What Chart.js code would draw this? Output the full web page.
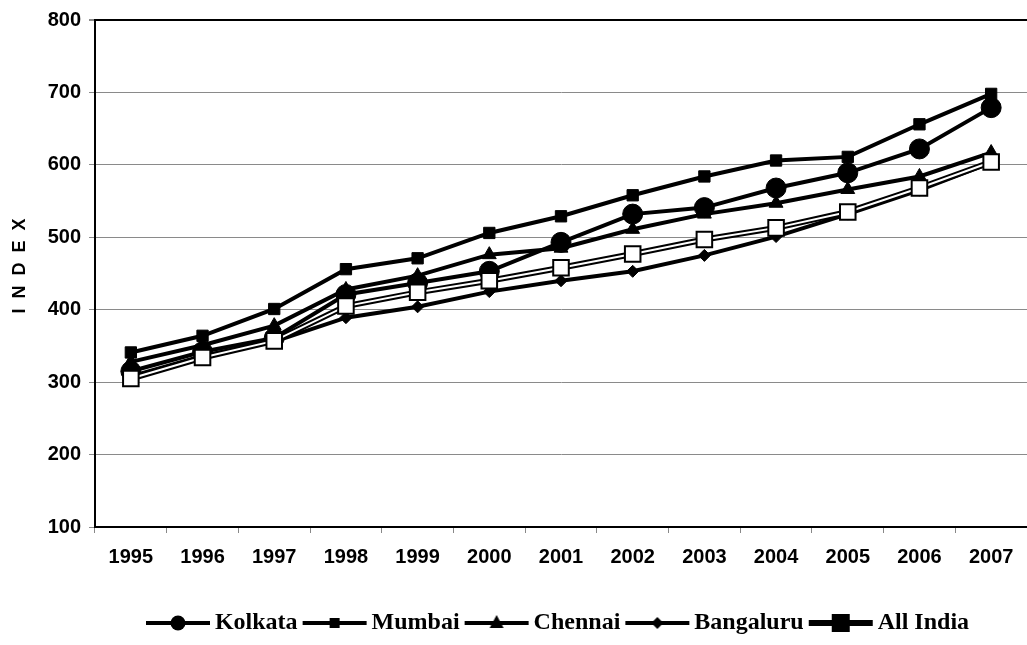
<!DOCTYPE html>
<html>
<head>
<meta charset="utf-8">
<script src="https://cdn.jsdelivr.net/npm/chart.js@4/dist/chart.umd.min.js"></script>
<style>
  html, body { margin: 0; padding: 0; background: #fff; }
  #wrap { width: 1027px; height: 645px; }
</style>
</head>
<body>
<div id="wrap"><canvas id="chart" width="1027" height="645"></canvas></div>
<script>
// years on the x axis
const years = ['1995', '1996', '1997', '1998', '1999', '2000', '2001',
               '2002', '2003', '2004', '2005', '2006', '2007'];

// index values
const kolkata   = [315, 342, 361, 421, 437, 453, 493, 532, 541, 568, 589, 622, 679];
const mumbai    = [341, 364, 401, 456, 471, 506, 529, 558, 584, 606, 611, 656, 698];
const chennai   = [328, 351, 378, 428, 447, 476, 485, 511, 532, 547, 566, 584, 617];
const bangaluru = [308, 336, 356, 389, 404, 425, 440, 453, 475, 501, 532, 565, 603];
const allIndia  = [305, 334, 357, 405, 424, 440, 458, 477, 497, 513, 535, 568, 604];

const yTicks = [100, 200, 300, 400, 500, 600, 700, 800];
const seriesNames = ['Kolkata', 'Mumbai', 'Chennai', 'Bangaluru', 'All India'];

// little picture for each legend entry: a line with the marker on it
function legendIcon(kind) {
    const c = document.createElement('canvas');
    c.width = 70;
    c.height = 24;
    const g = c.getContext('2d');
    const cx = 35, cy = 12;
    g.strokeStyle = '#000';
    g.fillStyle = '#000';
    g.lineWidth = kind === 'allindia' ? 6 : 4;
    g.beginPath();
    g.moveTo(3, cy);
    g.lineTo(67, cy);
    g.stroke();
    g.beginPath();
    if (kind === 'circle') {
        g.arc(cx, cy, 7.5, 0, Math.PI * 2);
    } else if (kind === 'square') {
        g.rect(cx - 5, cy - 5, 10, 10);
    } else if (kind === 'triangle') {
        g.moveTo(cx, cy - 8);
        g.lineTo(cx + 7, cy + 5);
        g.lineTo(cx - 7, cy + 5);
        g.closePath();
    } else if (kind === 'diamond') {
        g.moveTo(cx, cy - 6);
        g.lineTo(cx + 6, cy);
        g.lineTo(cx, cy + 6);
        g.lineTo(cx - 6, cy);
        g.closePath();
    } else {
        g.rect(cx - 9, cy - 9, 18, 18);
    }
    g.fill();
    return c;
}

const icons = [legendIcon('circle'), legendIcon('square'), legendIcon('triangle'),
               legendIcon('diamond'), legendIcon('allindia')];

function series(label, values, style, radius, order) {
    return {
        label: label,
        data: values,
        borderColor: '#000',
        backgroundColor: '#000',
        borderWidth: 4,
        pointStyle: style,
        pointRadius: radius,
        pointBackgroundColor: '#000',
        pointBorderColor: '#000',
        pointBorderWidth: 1,
        tension: 0,
        order: order
    };
}

const allIndiaBase = series('All India', allIndia, 'rect', 0, 1);
allIndiaBase.borderWidth = 6;

const allIndiaCore = series('All India core', allIndia, 'rect', 11, 0);
allIndiaCore.borderColor = '#fff';
allIndiaCore.borderWidth = 2;
allIndiaCore.pointBackgroundColor = '#fff';
allIndiaCore.pointBorderColor = '#000';
allIndiaCore.pointBorderWidth = 2;

const datasets = [
    series('Kolkata', kolkata, 'circle', 10, 2),
    series('Mumbai', mumbai, 'rect', 8, 3),
    series('Chennai', chennai, 'triangle', 8, 4),
    series('Bangaluru', bangaluru, 'rectRot', 6, 5),
    allIndiaBase,
    allIndiaCore
];

const tickFont = { family: 'Liberation Sans', size: 20, weight: 'bold' };

new Chart(document.getElementById('chart'), {
    type: 'line',
    data: { labels: years, datasets: datasets },
    options: {
        responsive: false,
        animation: false,
        layout: { autoPadding: false, padding: { top: 19, right: 0, bottom: 0, left: 0 } },
        plugins: {
            tooltip: { enabled: false },
            legend: {
                position: 'bottom',
                fullSize: false,
                labels: {
                    usePointStyle: true,
                    pointStyleWidth: 50,
                    padding: 12,
                    color: '#000',
                    font: { family: 'Liberation Serif', size: 24, weight: 'bold' },
                    generateLabels: () => seriesNames.map((name, i) => ({
                        text: name,
                        pointStyle: icons[i],
                        fillStyle: '#000',
                        strokeStyle: '#000',
                        lineWidth: 0,
                        hidden: false,
                        datasetIndex: i
                    }))
                },
                onClick: () => {}
            }
        },
        scales: {
            x: {
                offset: true,
                border: { color: '#000', width: 2 },
                grid: {
                    offset: true,
                    drawOnChartArea: false,
                    tickLength: 6,
                    tickColor: '#888'
                },
                ticks: { color: '#000', font: tickFont, padding: 12, maxRotation: 0 },
                afterFit: (scale) => {
                    scale.height += 18;
                    scale.paddingLeft = 0;
                    scale.paddingRight = 0;
                }
            },
            y: {
                min: 100,
                max: 800,
                afterBuildTicks: (scale) => { scale.ticks = yTicks.map(v => ({ value: v })); },
                border: { color: '#000', width: 2 },
                grid: {
                    color: (ctx) => ctx.tick && ctx.tick.value === 800 ? '#000' : '#8a8a8a',
                    lineWidth: (ctx) => ctx.tick && ctx.tick.value === 800 ? 2 : 1,
                    tickLength: 6,
                    tickColor: '#8a8a8a'
                },
                ticks: { color: '#000', font: tickFont, padding: 8 },
                title: {
                    display: true,
                    text: '   I  N  D  E  X',
                    color: '#000',
                    font: { family: 'Liberation Sans', size: 18, weight: 'bold' },
                    padding: { top: 9, bottom: 0 }
                },
                afterFit: (scale) => { scale.width = 95; }
            }
        }
    }
});
</script>
</body>
</html>
